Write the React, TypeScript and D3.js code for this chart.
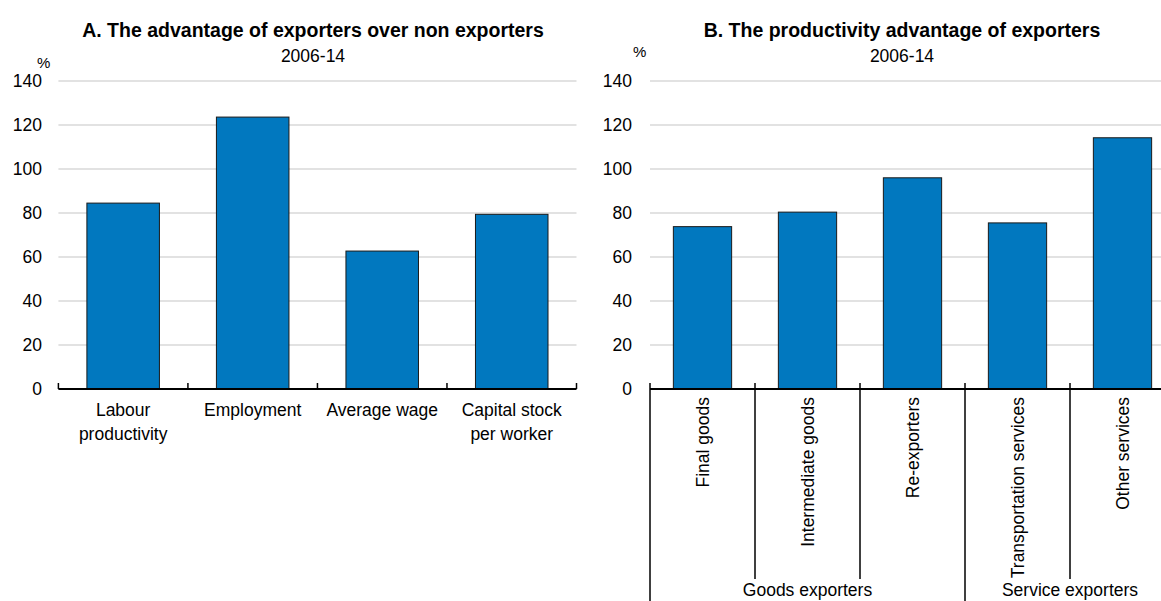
import React from "react";
import * as d3 from "d3";

const catsA = ["Labour productivity", "Employment", "Average wage", "Capital stock per worker"];
const labelLinesA = [["Labour", "productivity"], ["Employment"], ["Average wage"], ["Capital stock", "per worker"]];
const valuesA = [84.5, 123.6, 62.7, 79.4];

const catsB = ["Final goods", "Intermediate goods", "Re-exporters", "Transportation services", "Other services"];
const valuesB = [73.8, 80.4, 96.0, 75.5, 114.2];
const groupsB = ["Goods exporters", "Service exporters"];
const groupSizesB = [3, 2];

const yTicks = [0, 20, 40, 60, 80, 100, 120, 140];

const FONT = "'Liberation Sans', Arial, Helvetica, sans-serif";
const BLUE = "#0178BF";
const GRID = "#d9d9d9";

export default function App() {
  const W = 1161, H = 601;
  const y = d3.scaleLinear().domain([0, 140]).range([389, 81]);

  const xA = d3.scaleBand<string>().domain(catsA).range([58.4, 576.5]).padding(0);
  const xB = d3.scaleBand<string>().domain(catsB).range([650, 1175]).padding(0);
  const ratioA = 0.56;
  const ratioB = 0.555;

  const fs = 17.5;

  const groupBounds: { name: string; start: number; end: number }[] = [];
  let idx = 0;
  groupsB.forEach((g, i) => {
    const startCat = catsB[idx];
    const endCat = catsB[idx + groupSizesB[i] - 1];
    groupBounds.push({ name: g, start: xB(startCat)!, end: xB(endCat)! + xB.step() });
    idx += groupSizesB[i];
  });
  const groupStarts = new Set(groupBounds.map((g) => Math.round(g.start)));

  return (
    <svg width={W} height={H} style={{ position: "absolute", left: 0, top: 0, background: "#fff" }} fontFamily={FONT}>
      <defs>
        <clipPath id="clipB">
          <rect x={600} y={0} width={561} height={601} />
        </clipPath>
      </defs>
      {/* Panel A */}
      <g>
        <text x={313} y={37} textAnchor="middle" fontWeight="bold" fontSize={19.5} fill="#000">
          A. The advantage of exporters over non exporters
        </text>
        <text x={313} y={62} textAnchor="middle" fontSize={fs} fill="#000">2006-14</text>
        <text x={37} y={68} fontSize={15} fill="#000">%</text>
        {yTicks.map((t) => (
          <g key={"ga" + t}>
            {t > 0 && (
              <line x1={58.4} x2={576.5} y1={y(t)} y2={y(t)} stroke={GRID} strokeWidth={1.5} />
            )}
            <text x={42} y={y(t)} dy="0.35em" textAnchor="end" fontSize={fs} fill="#000">{t}</text>
          </g>
        ))}
        {catsA.map((c, i) => {
          const bw = xA.bandwidth() * ratioA;
          const bx = xA(c)! + (xA.bandwidth() - bw) / 2;
          return (
            <rect key={c} x={bx} y={y(valuesA[i])} width={bw} height={y(0) - y(valuesA[i])} fill={BLUE} stroke="#1a1a1a" strokeWidth={1} />
          );
        })}
        <line x1={58.4} x2={576.5} y1={y(0)} y2={y(0)} stroke="#000" strokeWidth={2} />
        {[...catsA.map((c) => xA(c)!), 576.5].map((bx, i) => (
          <line key={"ta" + i} x1={bx} x2={bx} y1={y(0)} y2={y(0) - 6} stroke="#000" strokeWidth={1.5} />
        ))}
        {catsA.map((c, i) => (
          <text key={"la" + c} x={xA(c)! + xA.bandwidth() / 2} y={416} textAnchor="middle" fontSize={fs} fill="#000">
            {labelLinesA[i].map((ln, j) => (
              <tspan key={j} x={xA(c)! + xA.bandwidth() / 2} dy={j === 0 ? 0 : 24}>{ln}</tspan>
            ))}
          </text>
        ))}
      </g>

      {/* Panel B */}
      <g>
        <text x={902} y={37} textAnchor="middle" fontWeight="bold" fontSize={19.5} fill="#000">
          B. The productivity advantage of exporters
        </text>
        <text x={902} y={62} textAnchor="middle" fontSize={fs} fill="#000">2006-14</text>
        <text x={633} y={57} fontSize={15} fill="#000">%</text>
        <g clipPath="url(#clipB)">
          {yTicks.map((t) => (
            <g key={"gb" + t}>
              {t > 0 && (
                <line x1={650} x2={1175} y1={y(t)} y2={y(t)} stroke={GRID} strokeWidth={1.5} />
              )}
            </g>
          ))}
          {catsB.map((c, i) => {
            const bw = xB.bandwidth() * ratioB;
            const bx = xB(c)! + (xB.bandwidth() - bw) / 2;
            return (
              <rect key={c} x={bx} y={y(valuesB[i])} width={bw} height={y(0) - y(valuesB[i])} fill={BLUE} stroke="#1a1a1a" strokeWidth={1} />
            );
          })}
          <line x1={650} x2={1175} y1={y(0)} y2={y(0)} stroke="#000" strokeWidth={2} />
          {[...catsB.map((c) => xB(c)!), 1175].map((bx, i) => {
            const isGroup = groupStarts.has(Math.round(bx)) || i === catsB.length;
            return (
              <line key={"tb" + i} x1={bx} x2={bx} y1={y(0) - 6} y2={isGroup ? 601 : 579} stroke="#000" strokeWidth={1.5} />
            );
          })}
          {catsB.map((c) => {
            const cx = xB(c)! + xB.bandwidth() / 2;
            return (
              <text key={"lb" + c} transform={`translate(${cx},397) rotate(-90)`} dy="0.35em" textAnchor="end" fontSize={fs} fill="#000">
                {c}
              </text>
            );
          })}
          {groupBounds.map((g) => (
            <text key={g.name} x={(g.start + g.end) / 2} y={596} textAnchor="middle" fontSize={fs} fill="#000">
              {g.name}
            </text>
          ))}
        </g>
        {yTicks.map((t) => (
          <text key={"yb" + t} x={632} y={y(t)} dy="0.35em" textAnchor="end" fontSize={fs} fill="#000">{t}</text>
        ))}
      </g>
    </svg>
  );
}
